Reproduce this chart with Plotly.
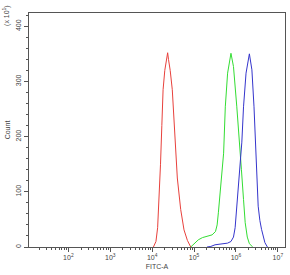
import plotly.graph_objects as go

red_x = [10700, 12300, 13500, 14800, 15800, 17000, 18200, 20000, 22400, 23400, 24500,
         26900, 30200, 33100, 36300, 39800, 47900, 57500, 69200, 83200]
red_y = [0, 10, 35, 90, 150, 220, 285, 320, 345, 352, 340, 320, 285, 230, 160, 125, 68, 31, 12, 0]

green_x = [83200, 100000, 126000, 158000, 204000, 269000, 324000, 355000, 380000, 417000,
           447000, 479000, 507000, 556000, 631000, 759000, 871000, 1047000, 1259000,
           1349000, 1514000, 1660000, 1862000, 2089000, 2512000]
green_y = [0, 5, 13, 17, 20, 22, 28, 40, 62, 95, 122, 150, 170, 254, 315, 351, 327, 254,
           158, 140, 86, 44, 18, 6, 0]

blue_x = [204000, 251000, 316000, 398000, 501000, 631000, 759000, 871000, 955000, 1047000,
          1148000, 1259000, 1380000, 1514000, 1738000, 2089000, 2399000, 2692000, 3020000,
          3162000, 3388000, 3715000, 4074000, 4898000, 5623000]
blue_y = [0, 1, 4, 5, 5, 7, 10, 18, 35, 70, 110, 150, 190, 254, 315, 350, 321, 254, 158,
          122, 74, 48, 32, 8, 0]

x_major = [100, 1000, 10000, 100000, 1000000, 10000000]
x_labels = ["10<sup>2</sup>", "10<sup>3</sup>", "10<sup>4</sup>", "10<sup>5</sup>",
            "10<sup>6</sup>", "10<sup>7</sup>"]
y_major = [0, 100, 200, 300, 400]
y_labels = ["0", "100", "200", "300", "400"]

x_minor = [m * d for d in [10, 100, 1000, 10000, 100000, 1000000, 10000000]
           for m in range(2, 10)]

FONT = "Liberation Sans, Arial, sans-serif"
fig = go.Figure()
for xs, ys, col in [(red_x, red_y, "#e8413c"), (green_x, green_y, "#33dd33"),
                    (blue_x, blue_y, "#3535cc")]:
    fig.add_trace(go.Scatter(x=xs, y=ys, mode="lines", line=dict(color=col, width=1),
                             hoverinfo="skip", showlegend=False))

fig.update_layout(
    width=290, height=275,
    margin=dict(l=29, r=5, t=13, b=28),
    paper_bgcolor="white", plot_bgcolor="white",
    font=dict(family=FONT, size=7, color="#444"),
    xaxis=dict(type="log", range=[1.06, 7.17], showgrid=False, zeroline=False,
               showline=True, linecolor="#555", linewidth=1, mirror=True,
               tickmode="array", tickvals=x_major, ticktext=x_labels,
               ticks="outside", ticklen=4, tickcolor="#555", tickwidth=1,
               minor=dict(tickmode="array", tickvals=x_minor, ticks="outside",
                          ticklen=2, tickcolor="#555", showgrid=False),
               title=dict(text="FITC-A", font=dict(size=7), standoff=3)),
    yaxis=dict(range=[0, 424], showgrid=False, zeroline=False,
               showline=True, linecolor="#555", linewidth=1, mirror=True,
               tickmode="array", tickvals=y_major, ticktext=y_labels, tickangle=-90,
               ticks="outside", ticklen=4, tickcolor="#555", tickwidth=1,
               minor=dict(dtick=20, ticks="outside", ticklen=2, tickcolor="#555",
                          showgrid=False),
               title=dict(text="Count", font=dict(size=7), standoff=3)),
)
fig.add_annotation(text="(x 10<sup>1</sup>)", xref="paper", yref="paper",
                   x=-0.086, y=1.045, xanchor="center", yanchor="top", textangle=-90,
                   showarrow=False, font=dict(size=7, color="#444"))
fig.write_html("out.html")
